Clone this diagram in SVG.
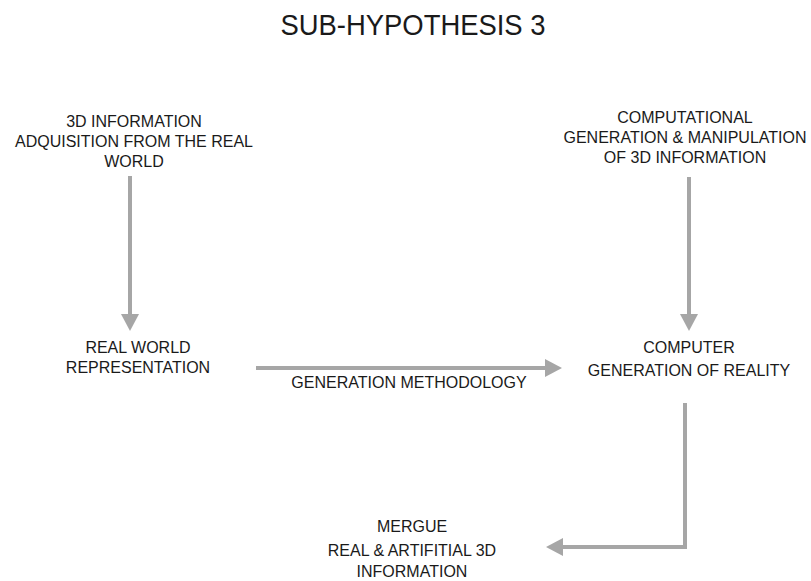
<svg xmlns="http://www.w3.org/2000/svg" width="811" height="581" viewBox="0 0 811 581">
<defs>
<style>
text{font-family:"Liberation Sans",Arial,sans-serif;fill:#1a1a1a;text-anchor:middle;font-size:16px}
.title{font-size:29px}
.conn{fill:none;stroke:#a6a6a6;stroke-width:4;marker-end:url(#ah)}
</style>
<marker id="ah" viewBox="0 0 17 18" refX="1" refY="9" markerWidth="17" markerHeight="18" markerUnits="userSpaceOnUse" orient="auto">
<path d="M0,0 L17,9 L0,18 z" fill="#a6a6a6"/>
</marker>
</defs>
<rect width="811" height="581" fill="#fff"/>
<text class="title" x="413" y="35" textLength="265" lengthAdjust="spacingAndGlyphs">SUB-HYPOTHESIS 3</text>
<g id="connectors">
<path class="conn" d="M130,176 V315"/>
<path class="conn" d="M689,177 V315"/>
<path class="conn" d="M256,368 H546"/>
<path class="conn" d="M685,403 V547 H562"/>
</g>
<g id="acquisition">
<text x="134" y="127">3D INFORMATION</text>
<text x="134" y="147">ADQUISITION FROM THE REAL</text>
<text x="134" y="167">WORLD</text>
</g>
<g id="computational">
<text x="685" y="123">COMPUTATIONAL</text>
<text x="685" y="143">GENERATION &amp; MANIPULATION</text>
<text x="685" y="163">OF 3D INFORMATION</text>
</g>
<g id="realworld">
<text x="138" y="353">REAL WORLD</text>
<text x="138" y="373">REPRESENTATION</text>
</g>
<g id="methodology">
<text x="409" y="388">GENERATION METHODOLOGY</text>
</g>
<g id="computer">
<text x="689" y="353">COMPUTER</text>
<text x="689" y="376">GENERATION OF REALITY</text>
</g>
<g id="merge">
<text x="412" y="532">MERGUE</text>
<text x="412" y="556">REAL &amp; ARTIFITIAL 3D</text>
<text x="412" y="577">INFORMATION</text>
</g>
</svg>
